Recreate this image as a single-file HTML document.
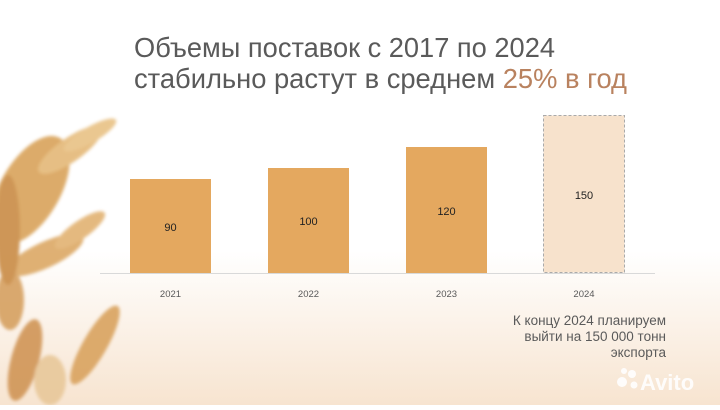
<!DOCTYPE html>
<html><head><meta charset="utf-8"><style>
html,body{margin:0;padding:0;}
body{width:720px;height:405px;overflow:hidden;}
</style></head><body>
<svg width="720" height="405" viewBox="0 0 720 405" xmlns="http://www.w3.org/2000/svg" font-family="'Liberation Sans', sans-serif">
<defs>
<linearGradient id="bg" x1="0" y1="0" x2="0" y2="1">
<stop offset="0" stop-color="#ffffff"/>
<stop offset="0.62" stop-color="#ffffff"/>
<stop offset="1" stop-color="#f7e4d0"/>
</linearGradient>
<filter id="bl"><feGaussianBlur stdDeviation="1.5"/></filter>
</defs>
<rect width="720" height="405" fill="url(#bg)"/>
<g filter="url(#bl)" opacity="0.9">
<ellipse cx="30" cy="190" rx="30" ry="60" transform="rotate(30 30 190)" fill="#d9a35a"/>
<ellipse cx="70" cy="150" rx="12" ry="38" transform="rotate(55 70 150)" fill="#e4b877"/>
<ellipse cx="90" cy="135" rx="8" ry="30" transform="rotate(60 90 135)" fill="#e8c184"/>
<ellipse cx="45" cy="255" rx="42" ry="13" transform="rotate(-25 45 255)" fill="#dca865"/>
<ellipse cx="80" cy="230" rx="30" ry="9" transform="rotate(-35 80 230)" fill="#e2b272"/>
<ellipse cx="10" cy="300" rx="14" ry="30" fill="#d6a060"/>
<ellipse cx="25" cy="360" rx="14" ry="42" transform="rotate(15 25 360)" fill="#d09556"/>
<ellipse cx="95" cy="345" rx="12" ry="45" transform="rotate(30 95 345)" fill="#d9a35f"/>
<ellipse cx="8" cy="230" rx="12" ry="55" fill="#c98b45"/>
<ellipse cx="50" cy="380" rx="16" ry="25" fill="#e8c89a"/>
</g>
<text font-size="28" fill="#5a5a5a"><tspan x="134" y="57" textLength="421" lengthAdjust="spacingAndGlyphs">Объемы поставок с 2017 по 2024</tspan></text>
<text font-size="28" fill="#5a5a5a"><tspan x="134" y="88" textLength="493" lengthAdjust="spacingAndGlyphs">стабильно растут в среднем <tspan fill="#b9825f">25% в год</tspan></tspan></text>
<line x1="100" y1="273.5" x2="655" y2="273.5" stroke="#d9d9d9" stroke-width="1"/>
<rect x="130" y="179" width="81" height="94" fill="#e4a85f"/>
<rect x="268" y="168" width="81" height="105" fill="#e4a85f"/>
<rect x="406" y="147" width="81" height="126" fill="#e4a85f"/>
<rect x="543.5" y="115.5" width="81" height="157" fill="#f7e2cc" stroke="#aaa" stroke-width="1" stroke-dasharray="3,2"/>
<g font-size="11" fill="#222" text-anchor="middle">
<text x="170.5" y="231">90</text>
<text x="308.5" y="225">100</text>
<text x="446.5" y="215">120</text>
<text x="584" y="199">150</text>
</g>
<g font-size="9.5" fill="#595959" text-anchor="middle">
<text x="170.5" y="297">2021</text>
<text x="308.5" y="297">2022</text>
<text x="446.5" y="297">2023</text>
<text x="584" y="297">2024</text>
</g>
<g font-size="13.5" fill="#5a5a5a" text-anchor="end">
<text x="666" y="325">К концу 2024 планируем</text>
<text x="666" y="341">выйти на 150 000 тонн</text>
<text x="666" y="357">экспорта</text>
</g>
<g fill="#ffffff" opacity="0.9">
<circle cx="622" cy="382" r="5"/><circle cx="632" cy="374" r="4"/><circle cx="634" cy="385" r="3.5"/><circle cx="624" cy="371" r="3"/>
<text x="640" y="390" font-size="22" font-weight="bold">Avito</text>
</g>
</svg>
</body></html>
